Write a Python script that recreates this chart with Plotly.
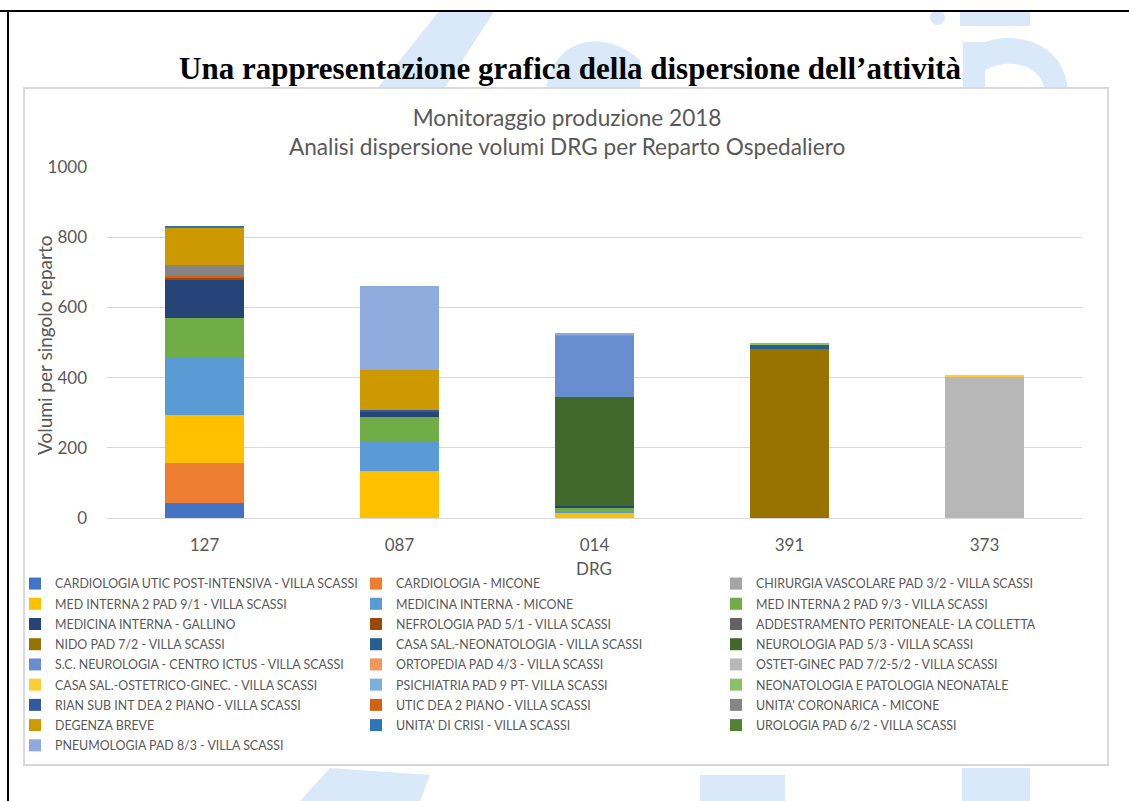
import plotly.graph_objects as go

# ---------------- data ----------------
drg = ["127", "087", "014", "391", "373"]

reparti = [
    "CARDIOLOGIA UTIC POST-INTENSIVA - VILLA SCASSI",
    "CARDIOLOGIA - MICONE",
    "CHIRURGIA VASCOLARE PAD 3/2 - VILLA SCASSI",
    "MED INTERNA 2 PAD 9/1 - VILLA SCASSI",
    "MEDICINA INTERNA - MICONE",
    "MED INTERNA 2 PAD 9/3 - VILLA SCASSI",
    "MEDICINA INTERNA - GALLINO",
    "NEFROLOGIA PAD 5/1 - VILLA SCASSI",
    "ADDESTRAMENTO PERITONEALE- LA COLLETTA",
    "NIDO PAD 7/2 - VILLA SCASSI",
    "CASA SAL.-NEONATOLOGIA - VILLA SCASSI",
    "NEUROLOGIA PAD 5/3 - VILLA SCASSI",
    "S.C. NEUROLOGIA - CENTRO ICTUS - VILLA SCASSI",
    "ORTOPEDIA PAD 4/3 - VILLA SCASSI",
    "OSTET-GINEC PAD 7/2-5/2 - VILLA SCASSI",
    "CASA SAL.-OSTETRICO-GINEC. - VILLA SCASSI",
    "PSICHIATRIA PAD 9 PT- VILLA SCASSI",
    "NEONATOLOGIA E PATOLOGIA NEONATALE",
    "RIAN SUB INT DEA 2 PIANO - VILLA SCASSI",
    "UTIC DEA 2 PIANO - VILLA SCASSI",
    "UNITA' CORONARICA - MICONE",
    "DEGENZA BREVE",
    "UNITA' DI CRISI - VILLA SCASSI",
    "UROLOGIA PAD 6/2 - VILLA SCASSI",
    "PNEUMOLOGIA PAD 8/3 - VILLA SCASSI",
]

colori = [
    "#4472C4", "#ED7D31", "#A5A5A5", "#FFC000", "#5B9BD5", "#70AD47",
    "#264478", "#9E480E", "#636363", "#997300", "#255E91", "#43682B",
    "#698ED0", "#F1975A", "#B7B7B7", "#FFCD33", "#7CAFDD", "#8CC168",
    "#335AA1", "#D26012", "#848484", "#CC9A00", "#2E75B6", "#548235",
    "#8FAADC",
]

# volumes per department (same order as reparti) for each DRG
v127 = [42, 115, 0, 137, 161, 115, 109, 5, 0, 0, 0, 0, 0, 0, 0, 0, 0, 0, 0, 6, 30, 106, 7, 0, 0]
v087 = [0, 0, 0, 133, 87, 69, 14, 0, 0, 0, 0, 0, 0, 0, 0, 0, 0, 0, 6, 0, 0, 114, 0, 0, 239]
v014 = [0, 0, 0, 16, 4, 11, 3, 0, 0, 0, 0, 310, 174, 0, 0, 0, 0, 0, 0, 0, 0, 6, 0, 0, 4]
v391 = [0, 0, 0, 0, 0, 0, 0, 0, 0, 481, 13, 0, 0, 0, 0, 0, 0, 5, 0, 0, 0, 0, 0, 0, 0]
v373 = [0, 0, 0, 0, 0, 0, 0, 0, 0, 0, 0, 0, 0, 0, 402, 5, 0, 0, 0, 0, 0, 0, 0, 0, 0]

titolo = "Una rappresentazione grafica della dispersione dell\u2019attivit\u00e0"
titolo_grafico = "Monitoraggio produzione 2018<br>Analisi dispersione volumi DRG per Reparto Ospedaliero"
titolo_y = "Volumi per singolo reparto"
titolo_x = "DRG"
y_ticks = [0, 200, 400, 600, 800, 1000]

# ---------------- geometry helpers ----------------
W, H = 1129, 801
PL, PR, PT, PB = 107, 1082, 167, 518  # plot area pixel box


def px(x):
    return (x - PL) / (PR - PL)


def py(y):
    return (PB - y) / (PB - PT)


GREY = "#595959"
FONT = "Lato"

fig = go.Figure()
legend_names = ["legend", "legend2", "legend3"]
for i, name in enumerate(reparti):
    vals = [v127[i], v087[i], v014[i], v391[i], v373[i]]
    fig.add_trace(go.Bar(
        x=drg, y=vals, name=name, legendgroup=f"g{i:02d}",
        marker=dict(color=colori[i], line=dict(width=0)),
        legend=legend_names[i % 3],
    ))

# ---------------- decorations (slide background) ----------------
wm = "#D9E9F9"
shapes = [
    # watermark pieces
    dict(type="path", path=f"M {px(372)},{py(95)} L {px(440)},{py(10)} L {px(495)},{py(10)} L {px(440)},{py(95)} Z",
         xref="paper", yref="paper", fillcolor=wm, line=dict(width=0), layer="below"),
    dict(type="path", path=f"M {px(545)},{py(95)} C {px(550)},{py(40)} {px(600)},{py(25)} {px(640)},{py(60)} L {px(640)},{py(95)} Z",
         xref="paper", yref="paper", fillcolor=wm, line=dict(width=0), layer="below"),
    dict(type="circle", x0=px(930), x1=px(945), y0=py(25), y1=py(10),
         xref="paper", yref="paper", fillcolor=wm, line=dict(width=0), layer="below"),
    dict(type="rect", x0=px(960), x1=px(1030), y0=py(26), y1=py(12),
         xref="paper", yref="paper", fillcolor=wm, line=dict(width=0), layer="below"),
    dict(type="path", path=f"M {px(963)},{py(95)} L {px(963)},{py(42)} L {px(985)},{py(42)} C {px(1020)},{py(30)} {px(1068)},{py(45)} {px(1068)},{py(95)} L {px(1045)},{py(95)} C {px(1045)},{py(62)} {px(1005)},{py(58)} {px(985)},{py(70)} L {px(985)},{py(95)} Z",
         xref="paper", yref="paper", fillcolor=wm, line=dict(width=0), layer="below"),
    dict(type="path", path=f"M {px(300)},{py(801)} L {px(330)},{py(768)} L {px(430)},{py(775)} L {px(420)},{py(801)} Z",
         xref="paper", yref="paper", fillcolor=wm, line=dict(width=0), layer="below"),
    dict(type="rect", x0=px(700), x1=px(785), y0=py(801), y1=py(775),
         xref="paper", yref="paper", fillcolor=wm, line=dict(width=0), layer="below"),
    dict(type="rect", x0=px(962), x1=px(1030), y0=py(801), y1=py(768),
         xref="paper", yref="paper", fillcolor=wm, line=dict(width=0), layer="below"),
    # chart box
    dict(type="rect", x0=px(24), x1=px(1108), y0=py(765), y1=py(88),
         xref="paper", yref="paper", fillcolor="white", line=dict(color="#D9D9D9", width=2), layer="below"),
    # slide black border (top and left)
    dict(type="line", x0=px(0), x1=px(1129), y0=py(11), y1=py(11),
         xref="paper", yref="paper", line=dict(color="black", width=2)),
    dict(type="line", x0=px(8), x1=px(8), y0=py(11), y1=py(801),
         xref="paper", yref="paper", line=dict(color="black", width=2)),
]

annotations = [
    dict(text=f"<b>{titolo}</b>", x=px(570), y=py(69), xref="paper", yref="paper",
         showarrow=False, font=dict(family="Liberation Serif", size=31, color="black"),
         xanchor="center", yanchor="middle"),
    dict(text=titolo_grafico, x=px(567), y=py(132), xref="paper", yref="paper",
         showarrow=False, font=dict(family=FONT, size=22.6, color=GREY),
         xanchor="center", yanchor="middle", align="center"),
    dict(text=titolo_y, x=px(44), y=py(345), xref="paper", yref="paper", textangle=-90,
         showarrow=False, font=dict(family=FONT, size=19, color=GREY),
         xanchor="center", yanchor="middle"),
    dict(text=titolo_x, x=px(594), y=py(568), xref="paper", yref="paper",
         showarrow=False, font=dict(family=FONT, size=17, color=GREY),
         xanchor="center", yanchor="middle"),
]

legend_common = dict(
    orientation="v", traceorder="grouped", bgcolor="rgba(0,0,0,0)",
    font=dict(family=FONT, size=12.4, color=GREY), xref="container", yref="container",
    yanchor="top", xanchor="left", tracegroupgap=1.1, itemwidth=30,
)
leg_y = 1 - 569 / H
fig.update_layout(
    width=W, height=H,
    margin=dict(l=PL, r=W - PR, t=PT, b=H - PB, autoexpand=False),
    paper_bgcolor="white", plot_bgcolor="white",
    barmode="stack", bargap=0.595,
    showlegend=True,
    legend=dict(**legend_common, x=15 / W, y=leg_y),
    legend2=dict(**legend_common, x=356 / W, y=leg_y),
    legend3=dict(**legend_common, x=716 / W, y=leg_y),
    shapes=shapes, annotations=annotations,
    xaxis=dict(
        automargin=False,
        showgrid=False, showline=True, linecolor="#D9D9D9", linewidth=1,
        tickfont=dict(family=FONT, size=17, color=GREY), ticks="", ticklabelstandoff=12,
    ),
    yaxis=dict(
        automargin=False,
        range=[0, 1000], tickvals=y_ticks, showgrid=True, gridcolor="#D9D9D9", gridwidth=1,
        zeroline=False, showline=False, ticks="", ticklabelstandoff=19,
        tickfont=dict(family=FONT, size=17, color=GREY),
    ),
)

fig.write_html("out.html", config={"displayModeBar": False},
               post_script="document.body.style.margin='0';")
